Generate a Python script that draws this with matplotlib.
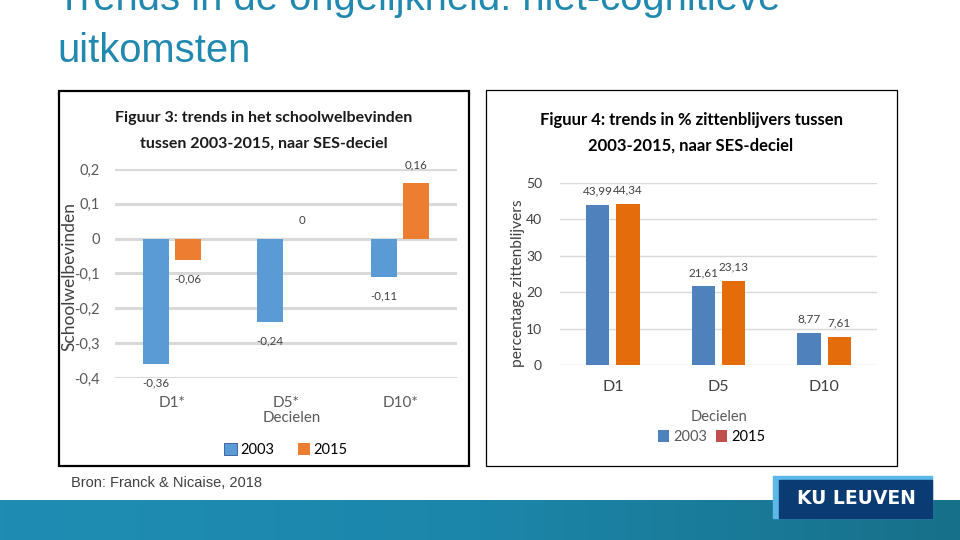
import numpy as np
import matplotlib
matplotlib.use("Agg")
import matplotlib.pyplot as plt
from matplotlib.patches import Rectangle, Patch
from matplotlib.colors import LinearSegmentedColormap

# ---------------- data ----------------
cats_left = ["D1*", "D5*", "D10*"]
welbev_2003 = [-0.36, -0.24, -0.11]
welbev_2015 = [-0.06, 0.0, 0.16]
yticks_left = [0.2, 0.1, 0.0, -0.1, -0.2, -0.3, -0.4]

cats_right = ["D1", "D5", "D10"]
zitten_2003 = [43.99, 21.61, 8.77]
zitten_2015 = [44.34, 23.13, 7.61]
yticks_right = [0, 10, 20, 30, 40, 50]

years = ["2003", "2015"]

W, H = 960, 540
fig = plt.figure(figsize=(9.6, 5.4), dpi=100)
fig.patch.set_facecolor("white")

def fx(px):
    return px / W

def fy(py):
    return 1 - py / H

def comma(v, nd=2):
    if v == 0:
        return "0"
    return f"{v:.{nd}f}".replace(".", ",")

CAL = ["Lato", "DejaVu Sans"]
ARIAL = ["Liberation Sans", "DejaVu Sans"]

# ---------------- slide title ----------------
title_col = "#2189B0"
fig.text(fx(57), fy(10), "Trends in de ongelijkheid: niet-cognitieve", fontsize=28.8,
         family=ARIAL, color=title_col, va="baseline", ha="left")
fig.text(fx(57), fy(62), "uitkomsten", fontsize=28.8,
         family=ARIAL, color=title_col, va="baseline", ha="left")

# ---------------- panel frames ----------------
fig.add_artist(Rectangle((fx(59), fy(466)), fx(469 - 59), (466 - 91) / H,
                         transform=fig.transFigure, fill=False, lw=1.6, ec="black"))
fig.add_artist(Rectangle((fx(486), fy(466)), fx(897 - 486), (466 - 90) / H,
                         transform=fig.transFigure, fill=False, lw=0.9, ec="black"))

# ---------------- left chart ----------------
blueL, orangeL = "#5B9BD5", "#ED7D31"
axw1 = 457 - 115
ax1 = fig.add_axes([fx(115), fy(378), fx(axw1), (378 - 169) / H])
x = np.arange(len(cats_left))
bw, off = 0.23, 0.14
ax1.bar(x - off, welbev_2003, bw, color=blueL, zorder=3)
ax1.bar(x + off, welbev_2015, bw, color=orangeL, zorder=3)
ax1.set_xlim(-0.5, 2.5)
ax1.set_ylim(-0.4, 0.2)
ax1.set_yticks(yticks_left)
ax1.set_yticklabels([comma(t, 1) for t in yticks_left], family=CAL, fontsize=10.5, color="#595959")
ax1.set_xticks(x)
ax1.set_xticklabels(cats_left, family=CAL, fontsize=11, color="#595959")
ax1.tick_params(length=0, axis="x", pad=13)
ax1.tick_params(length=0, axis="y", pad=11)
for s in ax1.spines.values():
    s.set_visible(False)
ax1.grid(axis="y", color="#D9D9D9", lw=2.2, zorder=0)
ax1.set_axisbelow(True)
for xs, vals in ((x - off, welbev_2003), (x + off, welbev_2015)):
    for xi, v in zip(xs, vals):
        dy = -19 if v < 0 else 18
        ax1.annotate(comma(v), (xi, v), xytext=(0, dy * 0.72), textcoords="offset points",
                     ha="center", va="center", fontsize=8.3, family=CAL, color="#404040")
ax1.set_ylabel("Schoolwelbevinden", family=CAL, fontsize=12.5, color="#404040")
ax1.yaxis.set_label_coords((77 - 115) / axw1, (378 - 277) / (378 - 169))
fig.text(fx(292), fy(418), "Decielen", family=CAL, fontsize=10.8, color="#595959",
         ha="center", va="center")
fig.text(fx(264), fy(118), "Figuur 3: trends in het schoolwelbevinden", family=CAL,
         fontsize=11.5, weight="bold", color="#1a1a1a", ha="center", va="center")
fig.text(fx(264), fy(144), "tussen 2003-2015, naar SES-deciel", family=CAL,
         fontsize=11.5, weight="bold", color="#1a1a1a", ha="center", va="center")
hl = [Patch(facecolor=blueL, edgecolor="#2F5597", lw=0.6), Patch(facecolor=orangeL)]
fig.legend(hl, years, loc="center", bbox_to_anchor=(fx(286), fy(450)), ncol=2,
           frameon=False, prop={"family": CAL, "size": 10.5}, handlelength=0.85,
           handleheight=0.95, handletextpad=0.25, columnspacing=1.6)

# ---------------- right chart ----------------
blueR, orangeR, redR = "#4F81BD", "#E46C0A", "#C0504D"
axw2 = 877 - 560
ax2 = fig.add_axes([fx(560), fy(365), fx(axw2), (365 - 183) / H])
x2 = np.arange(len(cats_right))
bw2, off2 = 0.22, 0.143
ax2.bar(x2 - off2, zitten_2003, bw2, color=blueR, zorder=3)
ax2.bar(x2 + off2, zitten_2015, bw2, color=orangeR, zorder=3)
ax2.set_xlim(-0.5, 2.5)
ax2.set_ylim(0, 50)
ax2.set_yticks(yticks_right)
ax2.set_yticklabels([str(t) for t in yticks_right], family=CAL, fontsize=10, color="#404040")
ax2.set_xticks(x2)
ax2.set_xticklabels(cats_right, family=CAL, fontsize=11.5, color="#404040")
ax2.tick_params(length=0, axis="x", pad=11)
ax2.tick_params(length=0, axis="y", pad=13)
for s in ax2.spines.values():
    s.set_visible(False)
ax2.grid(axis="y", color="#D9D9D9", lw=1.0, zorder=0)
ax2.set_axisbelow(True)
for xs, vals in ((x2 - off2, zitten_2003), (x2 + off2, zitten_2015)):
    for xi, v in zip(xs, vals):
        ax2.annotate(comma(v), (xi, v), xytext=(0, 10), textcoords="offset points",
                     ha="center", va="center", fontsize=8.5, family=CAL, color="#404040")
ax2.set_ylabel("percentage zittenblijvers", family=CAL, fontsize=11.2, color="#404040")
ax2.yaxis.set_label_coords((525 - 560) / axw2, (365 - 283) / (365 - 183))
fig.text(fx(719), fy(417), "Decielen", family=CAL, fontsize=10.5, color="#595959",
         ha="center", va="center")
fig.text(fx(691), fy(120), "Figuur 4: trends in % zittenblijvers tussen", family=CAL,
         fontsize=12, weight="bold", color="#000000", ha="center", va="center")
fig.text(fx(691), fy(146), "2003-2015, naar SES-deciel", family=CAL,
         fontsize=12, weight="bold", color="#000000", ha="center", va="center")
hr = [Patch(facecolor=blueR), Patch(facecolor=redR)]
fig.legend(hr, years, loc="center", bbox_to_anchor=(fx(712), fy(437)), ncol=2,
           frameon=False, prop={"family": CAL, "size": 10.5}, handlelength=0.75,
           handleheight=0.8, handletextpad=0.3, columnspacing=0.6,
           labelcolor=["#595959", "#000000"])

# ---------------- footer ----------------
axb = fig.add_axes([0, 0, 1, 40 / H])
cmap = LinearSegmentedColormap.from_list("band", ["#1F8DB3", "#1C86AA", "#177089"])
axb.imshow(np.linspace(0, 1, 256)[None, :], aspect="auto", cmap=cmap,
           extent=[0, 1, 0, 1])
axb.set_axis_off()

fig.text(fx(71), fy(483), "Bron: Franck & Nicaise, 2018", family=ARIAL, fontsize=10.5,
         color="#404040", ha="left", va="center")

fig.add_artist(Rectangle((fx(773), fy(518)), fx(932 - 773), (518 - 476) / H,
                         transform=fig.transFigure, color="#5BB8E8", zorder=5))
fig.add_artist(Rectangle((fx(779), fy(518)), fx(932 - 779), (518 - 480) / H,
                         transform=fig.transFigure, color="#0B3B73", zorder=6))
fig.text(fx(856), fy(498), "KU LEUVEN", family=["DejaVu Sans"], fontsize=13.5,
         weight="bold", color="white", ha="center", va="center", zorder=7)

fig.savefig("out.png", dpi=100)
